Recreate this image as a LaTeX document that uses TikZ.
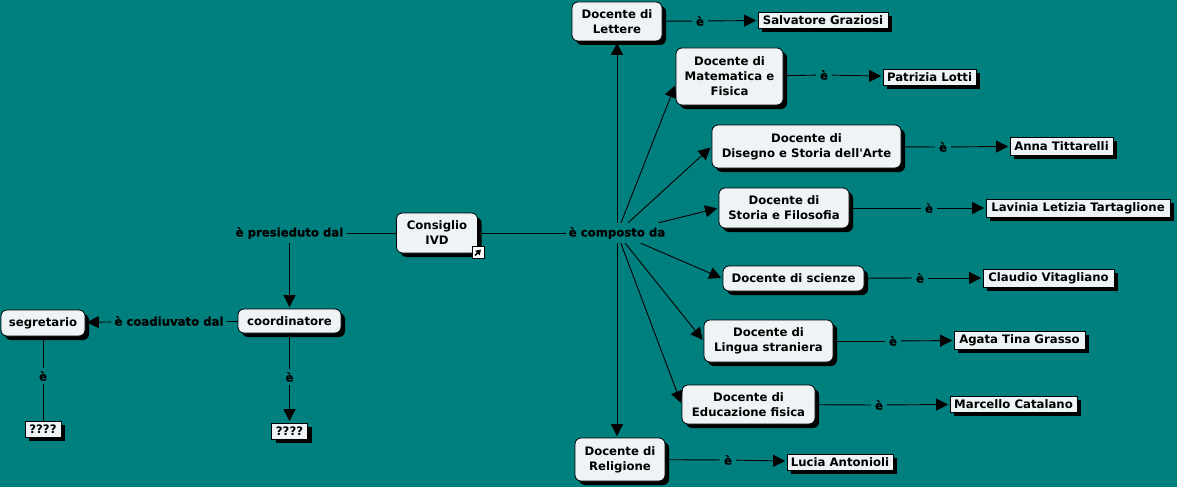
\documentclass[tikz,border=0pt]{standalone}
\usepackage{fontspec}
\setmainfont{DejaVu Sans}
\usetikzlibrary{arrows.meta,shadows}
\definecolor{mapbg}{HTML}{007F7F}
\definecolor{boxfill}{HTML}{EEF3F6}
\begin{document}
\begin{tikzpicture}[
            x=1pt, y=-1pt,
            every node/.style={font=\fontsize{11.7}{15}\selectfont\bfseries, text=black},
            concept/.style={draw=black, line width=0.8pt, fill=boxfill, rounded corners=6pt, align=center, inner sep=0pt,
                drop shadow={shadow xshift=4pt, shadow yshift=-4pt, opacity=1, fill=black}},
            person/.style={draw=black, line width=0.8pt, fill=boxfill, align=center, inner sep=0pt,
                drop shadow={shadow xshift=4pt, shadow yshift=-4pt, opacity=1, fill=black}},
            linklabel/.style={font=\fontsize{11.7}{15}\selectfont\bfseries\addfontfeature{FakeBold=0.8}, inner xsep=3pt, inner ysep=0pt, minimum height=20pt},
            shortlabel/.style={font=\fontsize{11.7}{15}\selectfont\bfseries\addfontfeature{FakeBold=0.8}, inner sep=0pt, minimum height=16pt, minimum width=16pt},
            wire/.style={line width=0.9pt},
            arrowwire/.style={line width=0.9pt, shorten >=1.5pt, -{Triangle[length=12pt, width=12pt]}}
        ]
            \useasboundingbox[fill=mapbg] (0,0) rectangle (1177,487);

            \node[concept, minimum width=81pt, minimum height=40pt] (consiglio) at (437, 233) {Consiglio\\IVD};
            \node[concept, minimum width=90pt, minimum height=39pt] (lettere) at (617, 21.5) {Docente di\\Lettere};
            \node[concept, minimum width=107pt, minimum height=57pt] (matematica) at (729.5, 76.5) {Docente di\\Matematica e\\Fisica};
            \node[concept, minimum width=189pt, minimum height=43pt] (disegno) at (806.5, 146.5) {Docente di\\Disegno e Storia dell\textquotesingle Arte};
            \node[concept, minimum width=130pt, minimum height=40pt] (storia) at (784, 208) {Docente di\\Storia e Filosofia};
            \node[concept, minimum width=141pt, minimum height=25pt] (scienze) at (793.5, 278.5) {Docente di scienze};
            \node[concept, minimum width=129pt, minimum height=42pt] (lingua) at (768.5, 341) {Docente di\\Lingua straniera};
            \node[concept, minimum width=133pt, minimum height=39pt] (educazione) at (748.5, 404.5) {Docente di\\Educazione fisica};
            \node[concept, minimum width=90pt, minimum height=43pt] (religione) at (620, 459.5) {Docente di\\Religione};
            \node[concept, minimum width=103pt, minimum height=24pt] (coordinatore) at (289.5, 321) {coordinatore};
            \node[concept, minimum width=84pt, minimum height=26pt] (segretario) at (43, 323) {segretario};

            \node[person, minimum width=130pt, minimum height=16pt] (graziosi) at (823, 20) {Salvatore Graziosi};
            \node[person, minimum width=93pt, minimum height=16pt] (lotti) at (929.5, 77) {Patrizia Lotti};
            \node[person, minimum width=103pt, minimum height=18pt] (tittarelli) at (1061.5, 146) {Anna Tittarelli};
            \node[person, minimum width=184pt, minimum height=18pt] (tartaglione) at (1078, 208) {Lavinia Letizia Tartaglione};
            \node[person, minimum width=131pt, minimum height=18pt] (vitagliano) at (1048.5, 278) {Claudio Vitagliano};
            \node[person, minimum width=131pt, minimum height=18pt] (grasso) at (1019.5, 340) {Agata Tina Grasso};
            \node[person, minimum width=127pt, minimum height=16pt] (catalano) at (1013.5, 404) {Marcello Catalano};
            \node[person, minimum width=106pt, minimum height=16pt] (antonioli) at (840, 462) {Lucia Antonioli};
            \node[person, minimum width=36pt, minimum height=16pt] (ignotoA) at (43, 429) {????};
            \node[person, minimum width=36pt, minimum height=16pt] (ignotoB) at (289.5, 431) {????};

            \node[linklabel] (presieduto) at (289.5, 233) {è presieduto dal};
            \node[linklabel] (composto) at (617, 233) {è composto da};
            \node[linklabel] (coadiuvato) at (169, 321) {è coadiuvato dal};
            \node[shortlabel] (eLet) at (700, 21) {è};
            \node[shortlabel] (eMat) at (824, 75) {è};
            \node[shortlabel] (eDis) at (943, 147) {è};
            \node[shortlabel] (eSto) at (929, 208) {è};
            \node[shortlabel] (eSci) at (920, 278) {è};
            \node[shortlabel] (eLin) at (893, 341) {è};
            \node[shortlabel] (eEdu) at (879, 405) {è};
            \node[shortlabel] (eRel) at (728, 460) {è};
            \node[shortlabel] (eSeg) at (43, 376) {è};
            \node[shortlabel] (eCoo) at (289.5, 377) {è};

            \draw[wire] (consiglio) -- (presieduto);
            \draw[arrowwire] (presieduto) -- (coordinatore);
            \draw[wire] (coordinatore) -- (coadiuvato);
            \draw[arrowwire] (coadiuvato) -- (segretario);
            \draw[wire] (segretario) -- (eSeg);
            \draw[wire] (eSeg) -- (ignotoA);
            \draw[wire] (coordinatore) -- (eCoo);
            \draw[arrowwire] (eCoo) -- (ignotoB);

            \draw[wire] (consiglio) -- (composto);
            \draw[arrowwire] (composto) -- (lettere);
            \draw[arrowwire] (composto) -- (matematica.188);
            \draw[arrowwire] (composto) -- (disegno.west);
            \draw[arrowwire] (composto) -- (storia.west);
            \draw[arrowwire] (composto) -- (scienze.west);
            \draw[arrowwire] (composto) -- (lingua.west);
            \draw[arrowwire] (composto) -- (educazione.west);
            \draw[arrowwire] (composto) -- (religione.north -| composto);

            \draw[wire] (lettere) -- (eLet);
            \draw[arrowwire] (eLet) -- (graziosi);
            \draw[wire] (matematica) -- (eMat);
            \draw[arrowwire] (eMat) -- (lotti);
            \draw[wire] (disegno) -- (eDis);
            \draw[arrowwire] (eDis) -- (tittarelli);
            \draw[wire] (storia) -- (eSto);
            \draw[arrowwire] (eSto) -- (tartaglione);
            \draw[wire] (scienze) -- (eSci);
            \draw[arrowwire] (eSci) -- (vitagliano);
            \draw[wire] (lingua) -- (eLin);
            \draw[arrowwire] (eLin) -- (grasso);
            \draw[wire] (educazione) -- (eEdu);
            \draw[arrowwire] (eEdu) -- (catalano);
            \draw[wire] (religione) -- (eRel);
            \draw[arrowwire] (eRel) -- (antonioli);

            % link mark on the corner of the map
            \node[draw=black, fill=white, line width=0.8pt, minimum size=12pt, inner sep=0pt] (marker) at (478, 252.5) {};
            \draw[line width=1.5pt, -{Triangle[length=5pt, width=6pt]}] (marker.center) ++(-3,3) -- ++(6,-6);
        \end{tikzpicture}
\end{document}
